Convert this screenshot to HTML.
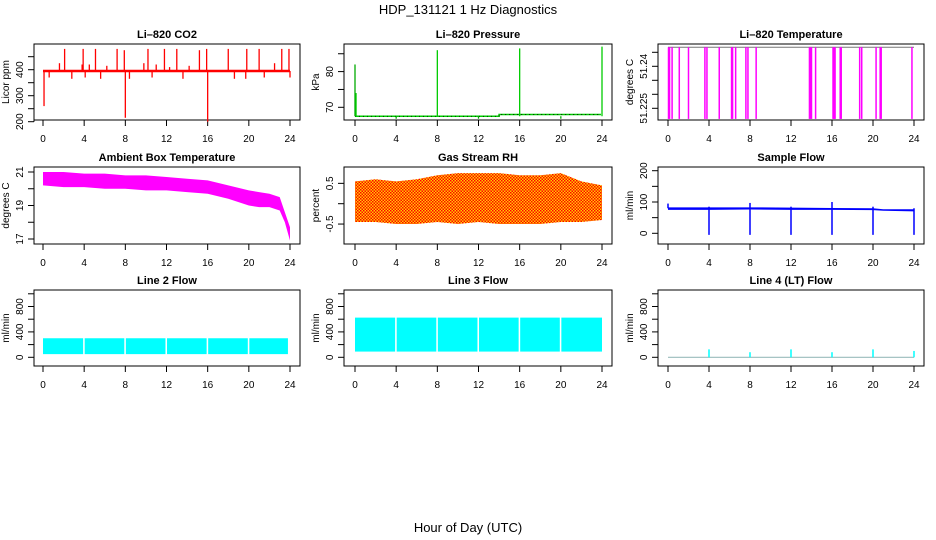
<!DOCTYPE html>
<html><head><meta charset="utf-8"><style>
html,body{margin:0;padding:0;background:#fff;width:936px;height:540px;overflow:hidden}
svg text{font-family:"Liberation Sans",Arial,sans-serif}
</style></head><body>
<svg id="c" width="936" height="540" viewBox="0 0 936 540" xmlns="http://www.w3.org/2000/svg">
<text x="468" y="14" font-size="13" text-anchor="middle">HDP_131121  1 Hz Diagnostics</text>
<text x="468" y="532" font-size="13" text-anchor="middle">Hour of Day (UTC)</text>
</svg>
<script>
// ---- data ----
const hourTicks=[0,4,8,12,16,20,24];
const co2Base=395;
const co2SpikeTimes=[2.1,3.9,5.1,7.2,7.9,10.2,11.8,13.0,15.2,15.9,18.0,19.8,21.0,23.2,23.9,1.6,3.8,4.5,6.2,9.8,11.0,12.3,14.2,22.5,0.6,2.8,4.1,5.6,8.4,10.6,13.6,18.6,19.7,21.5,24.0,0.1,8.0,16.0];
const co2SpikeVals=[480,480,480,480,475,480,480,480,475,480,480,480,480,480,480,425,420,420,415,425,420,410,415,425,370,365,370,365,365,370,365,365,365,370,370,260,215,200];
const presTimes=[0,0.1,4,8,12,16,20,24];
const presVals=[82,74,66.8,86,66.8,86.5,66.8,87];
const presBaseT=[0,14,14,23.9];
const presBaseV=[67.5,67.5,68,68];
const tempTop=51.2468;
const tempDipTimes=[0.05,0.15,0.4,1.1,2.0,3.6,3.8,5.0,6.2,6.3,6.6,7.6,7.8,8.6,13.8,13.9,14.0,14.4,16.1,16.2,16.3,16.8,16.9,18.7,18.9,20.3,20.7,20.8,23.8];
const tempDipVal=51.2212;
const ambHours=[0,2,4,6,8,10,12,14,16,18,20,21,22,23,23.5,24];
const ambUpper=[21.0,21.0,20.9,20.9,20.8,20.8,20.7,20.6,20.5,20.2,19.9,19.8,19.7,19.5,18.6,17.7];
const ambLower=[20.2,20.1,20.1,20.0,20.0,19.9,19.9,19.8,19.7,19.4,19.0,18.9,18.9,18.7,18.0,16.9];
const rhHours=[0,2,4,6,8,10,12,14,16,18,20,22,24];
const rhUpper=[0.55,0.6,0.55,0.6,0.7,0.75,0.75,0.75,0.7,0.7,0.75,0.55,0.45];
const rhLower=[-0.45,-0.45,-0.5,-0.5,-0.45,-0.5,-0.45,-0.5,-0.5,-0.5,-0.45,-0.45,-0.4];
const sfHours=[0,4,8,12,16,20,21,24];
const sfUpper=[83,83,83,82,81,80,77,77];
const sfLower=[75,75,76,75,75,74,72,70];
const sfEventTimes=[0,4,8,12,16,20,24];
const sfEventLow=[80,-5,-5,-5,-5,-5,-5];
const sfEventHigh=[95,85,97,85,100,85,80];
const l2Segments=[[0,3.9],[4.05,7.9],[8.05,11.9],[12.05,15.9],[16.05,19.9],[20.05,23.8]];
const l2Low=50, l2High=300;
const l3Segments=[[0,3.9],[4.05,7.9],[8.05,11.9],[12.05,15.9],[16.05,19.9],[20.05,24]];
const l3Low=90, l3High=625;
const l4SpikeTimes=[4,8,12,16,20,24];
const l4SpikeVals=[125,80,125,80,125,100];

// ---- drawing ----
const svg=document.getElementById('c');
const NS='http://www.w3.org/2000/svg';
function el(tag,attrs,parent){const e=document.createElementNS(NS,tag);for(const k in attrs)e.setAttribute(k,attrs[k]);(parent||svg).appendChild(e);return e;}

function panel(name,title,L,R,T,B,x0,x24,yFn,yTicks,yLabels,yTitle){
  const g=el('g',{});
  
  
  const xs=t=>x0+t*(x24-x0)/24;
  const t1=el('text',{x:(L+R)/2,y:T-6,'font-size':11,'font-weight':'bold','text-anchor':'middle'},g);
  t1.textContent=title;
  
  
  const box=el('rect',{x:L,y:T,width:R-L,height:B-T,fill:'none',stroke:'#000','stroke-width':1},g);
  
  
  const xa=el('g',{},g);
  
  
  el('line',{x1:xs(0),x2:xs(24),y1:B,y2:B,stroke:'#000'},xa);
  hourTicks.forEach(h=>{
    el('line',{x1:xs(h),x2:xs(h),y1:B,y2:B+6,stroke:'#000'},xa);
    const tx=el('text',{x:xs(h),y:B+22,'font-size':10,'text-anchor':'middle'},xa);
    tx.textContent=h;
  });
  const ya=el('g',{},g);
  
  
  el('line',{x1:L,x2:L,y1:yFn(yTicks[0]),y2:yFn(yTicks[yTicks.length-1]),stroke:'#000'},ya);
  yTicks.forEach(v=>el('line',{x1:L-6,x2:L,y1:yFn(v),y2:yFn(v),stroke:'#000'},ya));
  yLabels.forEach(v=>{
    const y=yFn(v),x=L-11;
    const tx=el('text',{x:x,y:y,'font-size':10,'text-anchor':'middle',transform:`rotate(-90 ${x} ${y})`},ya);
    tx.textContent=v;
  });
  const yt=el('text',{x:L-25,y:(T+B)/2,'font-size':10,'text-anchor':'middle',transform:`rotate(-90 ${L-25} ${(T+B)/2})`},g);
  yt.textContent=yTitle;
  
  
  const d=el('g',{},g);
  
  
  return {xs,d};
}
function band(d,xs,yFn,hrs,up,lo,fill){
  let p=hrs.map((h,i)=>xs(h)+','+yFn(up[i]));
  for(let i=hrs.length-1;i>=0;i--)p.push(xs(hrs[i])+','+yFn(lo[i]));
  el('polygon',{points:p.join(' '),fill:fill},d);
}

// CO2
{const y=v=>121.7-(v-200)*0.26;
const p=panel('co2','Li–820 CO2',34,300,44,120,43,290,y,[200,250,300,350,400,450],[200,300,400],'Licor ppm');
el('line',{x1:p.xs(0),x2:p.xs(24),y1:y(co2Base),y2:y(co2Base),stroke:'#f00','stroke-width':2.5},p.d);
co2SpikeTimes.forEach((t,i)=>el('line',{x1:p.xs(t),x2:p.xs(t),y1:y(co2Base),y2:y(co2SpikeVals[i]),stroke:'#f00','stroke-width':1.3},p.d));}

// Pressure
{const y=v=>107.3-(v-70)*3.57;
const p=panel('pressure','Li–820 Pressure',344,612,44,120,355,602,y,[70,75,80,85],[70,80],'kPa');
el('polyline',{points:presBaseT.map((t,i)=>p.xs(t)+','+y(presBaseV[i])).join(' '),fill:'none',stroke:'#0c0','stroke-width':1.5},p.d);
el('polyline',{points:presBaseT.map((t,i)=>p.xs(t)+','+y(presBaseV[i])).join(' '),fill:'none',stroke:'#000','stroke-width':0.8,'stroke-dasharray':'1 3'},p.d);
presTimes.forEach((t,i)=>el('line',{x1:p.xs(t),x2:p.xs(t),y1:y(67.5),y2:y(presVals[i]),stroke:i%2?'#0c0':'#0a0','stroke-width':1.3},p.d));}

// Li-820 temperature
{const y=v=>108.3-(v-51.225)*2800;
const p=panel('li820-temp','Li–820 Temperature',658,924,44,120,668,914,y,[51.225,51.230,51.235,51.240,51.245],[51.225,51.240],'degrees C');
el('line',{x1:p.xs(0),x2:p.xs(24),y1:y(tempTop),y2:y(tempTop),stroke:'#777','stroke-width':1},p.d);
tempDipTimes.forEach(t=>el('line',{x1:p.xs(t),x2:p.xs(t),y1:y(tempTop),y2:y(tempDipVal),stroke:'#f0f','stroke-width':1.5},p.d));}

// Ambient
{const y=v=>239-(v-17)*16.75;
const p=panel('ambient-temp','Ambient Box Temperature',34,300,167,244,43,290,y,[17,18,19,20,21],[17,19,21],'degrees C');
band(p.d,p.xs,y,ambHours,ambUpper,ambLower,'#f0f');}

// RH
{const y=v=>203.7-v*40.7;
const p=panel('gas-rh','Gas Stream RH',344,612,167,244,355,602,y,[-0.5,0,0.5],[-0.5,0.5],'percent');
const defs=el('defs',{});
const pat=el('pattern',{id:'rhp',width:3,height:3,patternUnits:'userSpaceOnUse'},defs);
el('rect',{width:3,height:3,fill:'#ffd000'},pat);
el('rect',{width:1.5,height:1.5,fill:'#f00'},pat);
el('rect',{x:1.5,y:1.5,width:1.5,height:1.5,fill:'#f00'},pat);
band(p.d,p.xs,y,rhHours,rhUpper,rhLower,'url(#rhp)');}

// Sample flow
{const y=v=>233.3-v*0.313;
const p=panel('sample-flow','Sample Flow',658,924,167,244,668,914,y,[0,50,100,150,200],[0,100,200],'ml/min');
band(p.d,p.xs,y,sfHours,sfUpper,sfLower,'#00f');
sfEventTimes.forEach((t,i)=>el('line',{x1:p.xs(t),x2:p.xs(t),y1:y(sfEventHigh[i]),y2:y(sfEventLow[i]),stroke:'#00f','stroke-width':1.5},p.d));}

const fy=v=>357.3-v*0.0635;
const fTicks=[0,200,400,600,800,1000], fLabels=[0,400,800];
// Line 2
{const p=panel('line2-flow','Line 2 Flow',34,300,290,366,43,290,fy,fTicks,fLabels,'ml/min');
l2Segments.forEach(s=>el('rect',{x:p.xs(s[0]),y:fy(l2High),width:p.xs(s[1])-p.xs(s[0]),height:fy(l2Low)-fy(l2High),fill:'#0ff'},p.d));}
// Line 3
{const p=panel('line3-flow','Line 3 Flow',344,612,290,366,355,602,fy,fTicks,fLabels,'ml/min');
l3Segments.forEach(s=>el('rect',{x:p.xs(s[0]),y:fy(l3High),width:p.xs(s[1])-p.xs(s[0]),height:fy(l3Low)-fy(l3High),fill:'#0ff'},p.d));}
// Line 4
{const p=panel('line4-flow','Line 4 (LT) Flow',658,924,290,366,668,914,fy,fTicks,fLabels,'ml/min');
el('line',{x1:p.xs(0),x2:p.xs(24),y1:fy(0),y2:fy(0),stroke:'#9bb','stroke-width':1.2},p.d);
l4SpikeTimes.forEach((t,i)=>el('line',{x1:p.xs(t),x2:p.xs(t),y1:fy(0),y2:fy(l4SpikeVals[i]),stroke:'#0ff','stroke-width':1.5},p.d));}
</script>
</body></html>
